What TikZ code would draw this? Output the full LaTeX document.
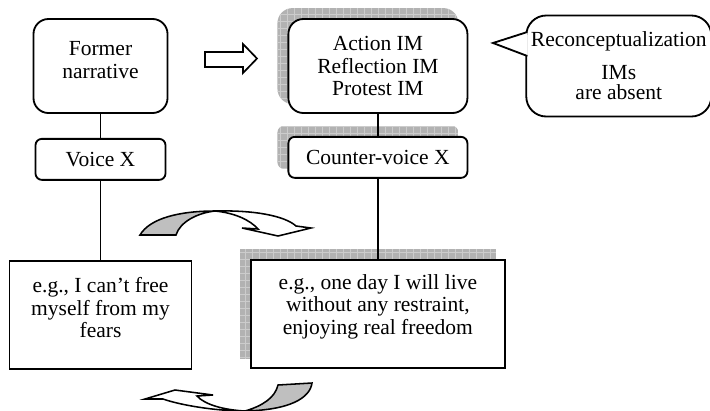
\documentclass[tikz,border=0pt]{standalone}
\usepackage{fontspec}
\setmainfont{Liberation Serif}
\usepackage{tikz}
\usetikzlibrary{positioning,calc,backgrounds}

\begin{document}
\begin{tikzpicture}[x=0.025cm, y=-0.025cm,
      every node/.style={font=\fontsize{15.3}{16.2}\selectfont, align=center, inner sep=0pt},
      roundbox/.style={draw, line width=1.3pt, fill=white, rounded corners=0.375cm, minimum height=2.35cm},
      smallbox/.style={draw, line width=1.3pt, fill=white, rounded corners=0.16cm, minimum height=1.025cm},
      plainbox/.style={draw, line width=1.3pt, fill=white, minimum height=2.7cm},
      bubble/.style={draw, line width=1.3pt, fill=white, rounded corners=0.5cm, minimum width=4.625cm, minimum height=2.525cm},
      link/.style={line width=1pt},
      hollow/.style={draw, line width=1.2pt, fill=white},
      twist/.style={draw, line width=1.1pt, fill=gray!50},
      ribbon/.style={draw, line width=1.1pt, fill=white},
      shadowfill/.style={fill=gray!60},
      shadowgrid/.style={draw=gray!40, line width=0.4pt}
    ]
    \useasboundingbox (0,0) rectangle (710,410);

    \node[roundbox, minimum width=3.35cm] (former) at (100.5,66) {Former\\narrative\\[-7.5pt]\mbox{}};
    \node[smallbox, minimum width=3.25cm, below=0.6cm of former] (voice) {Voice X};
    \node[plainbox, minimum width=4.55cm, below=1.975cm of voice] (fears) {e.g., I can’t free\\myself from my\\fears\\[-6pt]\mbox{}};

    \node[roundbox, minimum width=4.475cm, right=2.975cm of former] (action) {Action IM\\Reflection IM\\Protest IM};
    \node[smallbox, minimum width=4.475cm, below=0.55cm of action] (counter) {Counter-voice X};
    \node[plainbox, minimum width=6.35cm, below=2cm of counter] (freedom) {e.g., one day I will live\\without any restraint,\\enjoying real freedom\\[-3pt]\mbox{}};

    \node[bubble, right=1.425cm of action] (absent) {Reconceptualization\\[7pt]IMs\\[-1.8pt]are absent};
    \coordinate (tip) at (493,43);
    \filldraw[line width=1.3pt, fill=white] ($(absent.west)+(2,-34)$) -- (tip) -- ($(absent.west)+(2,-10)$);

    \draw[link] (former) -- (voice);
    \draw[link] (voice) -- (fears);
    \draw[link] (action) -- (counter);
    \draw[link] (counter) -- (freedom);

    % hollow arrow between the two upper boxes
    \draw[hollow] (205,52) -- (243,52) -- (243,44) -- (257,58.5) -- (243,73) -- (243,67) -- (205,67) -- cycle;

    % curved arrows
    \draw[twist] (140,235) .. controls (150,218) and (180,211) .. (215,211) .. controls (197,213) and (180,222) .. (176,235) -- cycle;
    \draw[ribbon] (215,211) .. controls (255,210) and (285,216) .. (296,226) -- (311,228) -- (278,236) -- (242,228) -- (258,229) .. controls (250,220) and (235,213) .. (215,211) -- cycle;
    \draw[twist] (278,385) -- (312,383) .. controls (310,398) and (290,410) .. (245,411) .. controls (262,406) and (275,398) .. (278,385) -- cycle;
    \draw[ribbon] (245,411) .. controls (215,411) and (180,405) .. (163,399) -- (145,399) -- (175,390) -- (213,395) -- (197,396) .. controls (205,405) and (225,410) .. (245,411) -- cycle;

    % grid shadows
    \begin{scope}[on background layer]
      \foreach \nd/\rc in {action/0.375cm, counter/0.16cm, freedom/0cm} {
        \begin{scope}
          \clip[rounded corners=\rc] ($(\nd.south west)+(-10,-10)$) rectangle ($(\nd.north east)+(-10,-10)$);
          \fill[shadowfill] ($(\nd.south west)+(-10,-10)$) rectangle ($(\nd.north east)+(-10,-10)$);
          \draw[shadowgrid, step=0.175cm] ($(\nd.south west)+(-10,-10)$) grid ($(\nd.north east)+(-10,-10)$);
        \end{scope}
      }
    \end{scope}
\end{tikzpicture}
\end{document}
